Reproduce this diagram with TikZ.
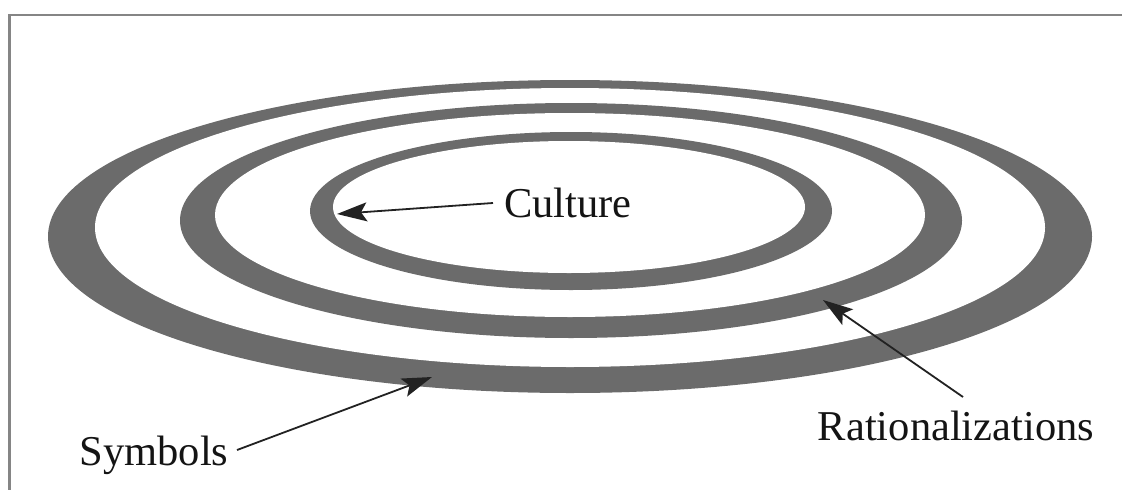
\documentclass[tikz,border=0pt]{standalone}
\usepackage{fontspec}
\setmainfont{Liberation Serif}
\usetikzlibrary{arrows.meta}
\definecolor{ringgray}{HTML}{6B6B6B}
\definecolor{framegray}{HTML}{858585}
\definecolor{arrowdark}{HTML}{222222}
\begin{document}
\begin{tikzpicture}[x=1pt,y=-1pt,
  ring/.style={fill=ringgray},
  hole/.style={fill=white},
  lbl/.style={font=\fontsize{42.5}{50}\selectfont, text=black!92, inner sep=0pt, anchor=base},
  pointer/.style={draw=arrowdark, line width=1.8pt, -{Stealth[length=30pt,width=19pt,inset=6pt]}},
  frame/.style={draw=framegray, line width=2.6pt}
]
\useasboundingbox (0,0) rectangle (1122,490);
% frame
\draw[frame] (9.5,490) -- (9.5,15) -- (1122,15);
% outer ring
\fill[ring] (570,236.5) ellipse [x radius=522pt, y radius=156.5pt];
\fill[hole] (570,227.5) ellipse [x radius=475pt, y radius=139.5pt];
% middle ring
\fill[ring] (571,220.5) ellipse [x radius=391pt, y radius=117.5pt];
\fill[hole] (570,215) ellipse [x radius=355pt, y radius=102pt];
% inner ring
\fill[ring] (571,211) ellipse [x radius=261pt, y radius=79pt];
\fill[hole] (569,207) ellipse [x radius=236pt, y radius=66pt];
% labels
\node[lbl] (culture) at (568,217) {Culture};
\node[lbl] (symbols) at (154,465) {Symbols};
\node[lbl] (ration) at (956,440) {Rationalizations};
% arrow ends
\coordinate (cs) at (493,203);
\coordinate (ct) at (337,214);
\coordinate (ss) at (237,450);
\coordinate (st) at (432,377);
\coordinate (rs) at (963,397);
\coordinate (rt) at (823,300);
\draw[pointer] (cs) -- (ct);
\draw[pointer] (ss) -- (st);
\draw[pointer] (rs) -- (rt);
\end{tikzpicture}
\end{document}
